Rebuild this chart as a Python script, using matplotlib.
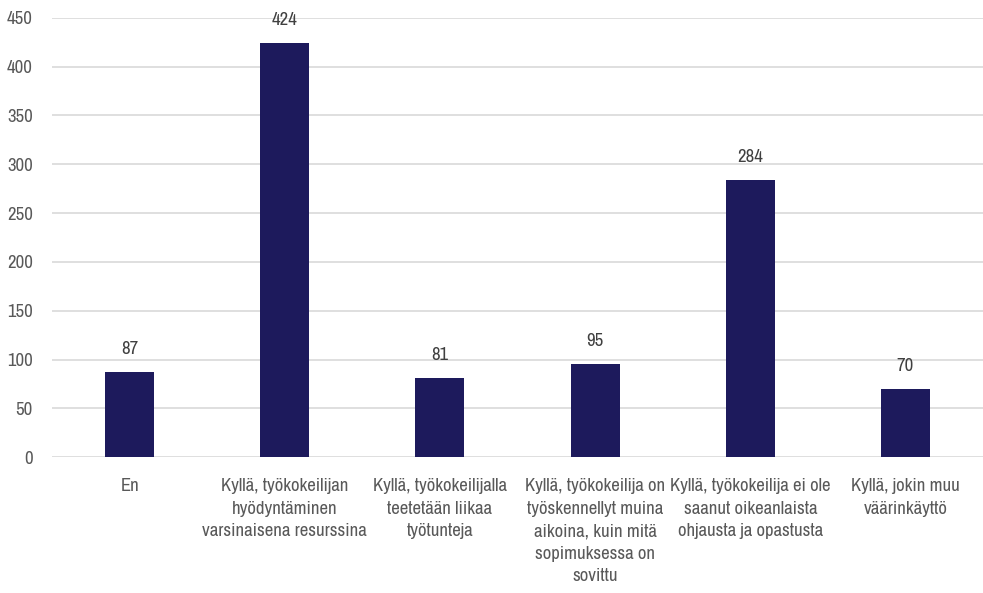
import matplotlib.pyplot as plt
from matplotlib import font_manager

categories = [
    "En",
    "Kyllä, työkokeilijan\nhyödyntäminen\nvarsinaisena resurssina",
    "Kyllä, työkokeilijalla\nteetetään liikaa\ntyötunteja",
    "Kyllä, työkokeilija on\ntyöskennellyt muina\naikoina, kuin mitä\nsopimuksessa on\nsovittu",
    "Kyllä, työkokeilija ei ole\nsaanut oikeanlaista\nohjausta ja opastusta",
    "Kyllä, jokin muu\nväärinkäyttö",
]
values = [87, 424, 81, 95, 284, 70]
yticks = [0, 50, 100, 150, 200, 250, 300, 350, 400, 450]

# narrow font if present, otherwise DejaVu at a smaller size
names = {f.name for f in font_manager.fontManager.ttflist}
fam, fs = "DejaVu Sans", 9.5
for cand in ["Archivo Narrow", "Liberation Sans Narrow"]:
    if cand in names:
        fam, fs = cand, 13.5
        break
plt.rcParams['font.family'] = [fam, 'DejaVu Sans']

txt = "#595959"
fig = plt.figure(figsize=(9.83, 5.93), dpi=100)
ax = fig.add_axes([0.053, 0.229, 0.947, 0.741])

x = range(len(categories))
bars = ax.bar(x, values, width=0.316, color="#1d1a5c", zorder=3)
for b, v in zip(bars, values):
    ax.annotate(str(v), (b.get_x() + b.get_width() / 2, v), xytext=(0, 11),
                textcoords="offset points", ha="center", va="bottom",
                fontsize=fs, color="#404040")

ax.set_xlim(-0.5, len(categories) - 0.5)
ax.set_ylim(0, 450)
ax.set_yticks(yticks)
ax.set_xticks(list(x))
ax.set_xticklabels(categories, fontsize=fs, color=txt, linespacing=1.5, va="top")
ax.tick_params(axis="y", labelsize=fs, labelcolor=txt, length=0, pad=14)
ax.tick_params(axis="x", length=0, pad=15)
ax.grid(axis="y", color="#d9d9d9", linewidth=1.2, zorder=0)
for s in ax.spines.values():
    s.set_visible(False)

fig.savefig("out.png", dpi=100)
